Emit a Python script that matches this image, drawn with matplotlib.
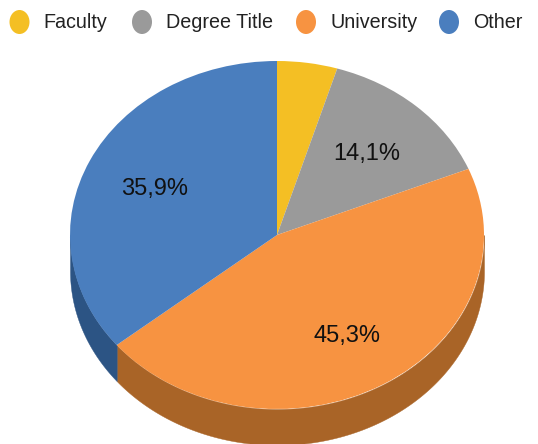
import numpy as np
import matplotlib
matplotlib.use('Agg')
import matplotlib.pyplot as plt
from matplotlib.patches import Ellipse

plt.rcParams['font.family'] = ['Liberation Sans', 'DejaVu Sans']

# Data
categories = ['Faculty', 'Degree Title', 'University', 'Other']
shares = [4.7, 14.1, 45.3, 35.9]
pct_labels = ['', '14,1%', '45,3%', '35,9%']
colors = ['#F4BF24', '#9A9A9A', '#F79341', '#4A7EBE']
side_colors = ['#B08A1A', '#6E6E6E', '#A96427', '#2C5484']

# Layout in image pixels
W, H = 538, 444
cx, cy, rx, ry = 277, 235, 207, 174
depth = 36 / ry
label_px = [None, (367, 154), (347, 336), (155, 189)]
legend_dot_x = [19.5, 142, 306, 449]
legend_text_x = [43, 166, 330, 473]
legend_y = 22

fig = plt.figure(figsize=(W / 100, H / 100), dpi=100)
ax = fig.add_axes([0, 0, 1, 1])

# top of the pie, squashed by the axes limits
ax.pie(shares, colors=colors, startangle=90, counterclock=False,
       wedgeprops={'linewidth': 0})
ax.set_aspect('auto')
ax.set_xlim(-cx / rx, (W - cx) / rx)
ax.set_ylim((cy - H) / ry, cy / ry)

# side wall, only the part of each slice on the front half
edges = 90 - 3.6 * np.cumsum([0] + shares)
for i in range(len(shares)):
    start = min(edges[i], 0)
    end = max(edges[i + 1], -180)
    if end >= start:
        continue
    t = np.radians(np.linspace(start, end, 200))
    x = np.cos(t)
    y = np.sin(t)
    ax.fill_between(x, y, y - depth, color=side_colors[i], linewidth=0.3, zorder=0.5)

# overlay in pixel coordinates for the texts and legend
ov = fig.add_axes([0, 0, 1, 1])
ov.set_xlim(0, W)
ov.set_ylim(H, 0)
ov.axis('off')

for lab, pos in zip(pct_labels, label_px):
    if pos is not None:
        ov.text(pos[0], pos[1], lab, fontsize=17, color='#111111', ha='center', va='center')

for i, name in enumerate(categories):
    ov.add_patch(Ellipse((legend_dot_x[i], legend_y), 20, 24, color=colors[i], linewidth=0))
    ov.text(legend_text_x[i], legend_y + 1, name, fontsize=14.2, color='#222222', ha='left', va='center')

fig.savefig('out.png', dpi=100)
